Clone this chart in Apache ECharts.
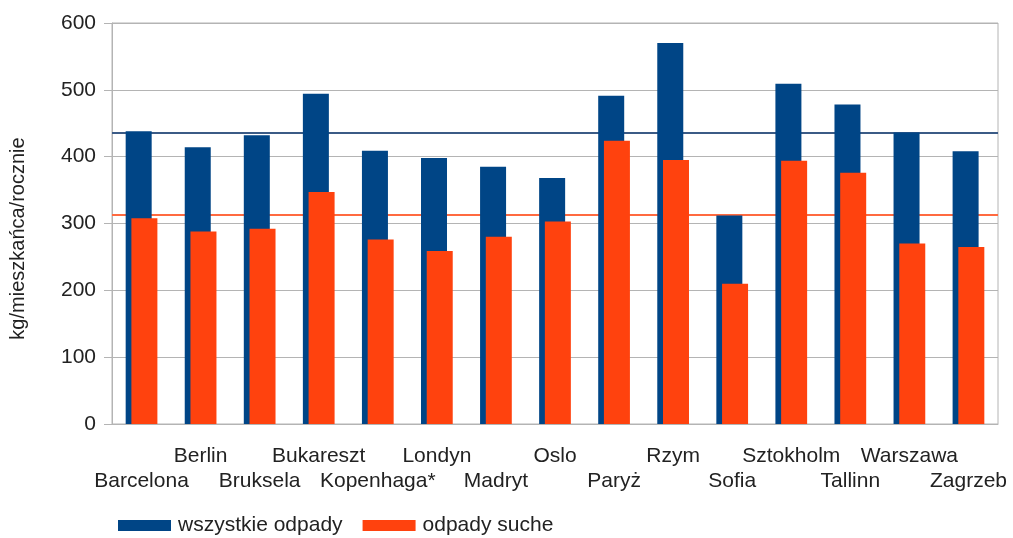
<!DOCTYPE html>
<html>
<head>
<meta charset="utf-8">
<script src="https://cdn.jsdelivr.net/npm/echarts@6/dist/echarts.min.js"></script>
<style>
  html, body { margin: 0; padding: 0; background: #fff; }
  #chart { width: 1013px; height: 538px; }
</style>
</head>
<body>
<div id="chart"></div>
<script>
const cities = ['Barcelona', 'Berlin', 'Bruksela', 'Bukareszt', 'Kopenhaga*', 'Londyn', 'Madryt', 'Oslo',
  'Paryż', 'Rzym', 'Sofia', 'Sztokholm', 'Tallinn', 'Warszawa', 'Zagrzeb'];
const allWaste = [438, 414, 432, 494, 409, 398, 385, 368, 491, 570, 312, 509, 478, 436, 408];
const dryWaste = [308, 288, 292, 347, 276, 259, 280, 303, 424, 395, 210, 394, 376, 270, 265];
const yTicks = { min: 0, max: 600, step: 100 };

const font = "'Liberation Sans', Arial, sans-serif";
const gridGrey = '#b4b4b4';

const chart = echarts.init(document.getElementById('chart'));
chart.setOption({
  animation: false,
  textStyle: { fontFamily: font, color: '#222' },
  grid: { left: 112, right: 15, top: 23, bottom: 114, show: true, borderColor: gridGrey, borderWidth: 1 },
  legend: {
    left: 113,
    top: 510,
    icon: 'rect',
    itemWidth: 53,
    itemHeight: 11,
    itemGap: 20,
    textStyle: { fontSize: 21, color: '#222', padding: [0, 0, 0, 2] },
    data: ['wszystkie odpady', 'odpady suche'],
  },
  xAxis: {
    type: 'category',
    data: cities,
    axisLine: { lineStyle: { color: gridGrey } },
    axisTick: { length: 8, lineStyle: { color: gridGrey } },
    axisLabel: {
      interval: 0,
      margin: 20,
      fontSize: 21,
      lineHeight: 25,
      color: '#222',
      formatter(value, idx) {
        return idx % 2 === 0 ? `\n${value}` : value;
      },
    },
  },
  yAxis: {
    type: 'value',
    min: yTicks.min,
    max: yTicks.max,
    interval: yTicks.step,
    name: 'kg/mieszkańca/rocznie',
    nameLocation: 'middle',
    nameGap: 84,
    nameTextStyle: { fontSize: 20, color: '#222', padding: [0, 30, 0, 0] },
    axisLine: { show: true, lineStyle: { color: gridGrey } },
    axisTick: { show: true, length: 8, lineStyle: { color: gridGrey } },
    axisLabel: { fontSize: 21, margin: 16, color: '#222' },
    splitLine: { lineStyle: { color: gridGrey } },
  },
  series: [
    {
      name: 'wszystkie odpady',
      type: 'bar',
      barWidth: 26,
      barGap: '-78%',
      itemStyle: { color: '#004586' },
      data: allWaste,
      markLine: {
        silent: true,
        symbol: 'none',
        z: 1,
        label: { show: false },
        lineStyle: { color: '#3b5b86', width: 2, type: 'solid' },
        data: [{ type: 'average' }],
      },
    },
    {
      name: 'odpady suche',
      type: 'bar',
      barWidth: 26,
      itemStyle: { color: '#ff420e' },
      data: dryWaste,
      markLine: {
        silent: true,
        symbol: 'none',
        z: 1,
        label: { show: false },
        lineStyle: { color: '#ff6a40', width: 2, type: 'solid' },
        data: [{ type: 'average' }],
      },
    },
  ],
});
</script>
</body>
</html>
